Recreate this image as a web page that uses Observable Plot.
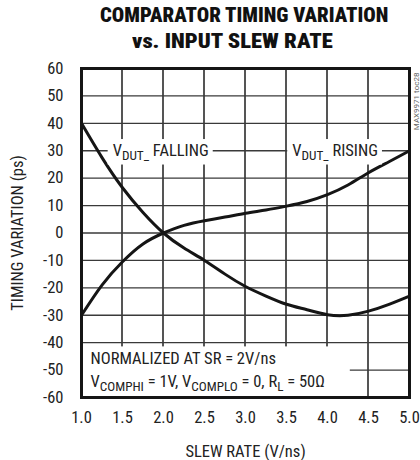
<!DOCTYPE html>
<html><head><meta charset="utf-8">
<script src="https://cdn.jsdelivr.net/npm/d3@7"></script>
<script src="https://cdn.jsdelivr.net/npm/@observablehq/plot@0.6"></script>
<style>
html,body{margin:0;padding:0;background:#fff;}
body{width:420px;height:460px;overflow:hidden;position:relative;}
#title{position:relative;height:60px;font-family:Roboto,"Liberation Sans",sans-serif;font-stretch:75%;font-weight:900;color:#111;}
#title div{position:absolute;white-space:nowrap;font-size:20px;line-height:24px;transform-origin:0 0;}
#chart svg{display:block;}
</style></head><body>
<div id="title"><div id="t1" style="top:3px;left:100px;">COMPARATOR TIMING VARIATION</div><div id="t2" style="top:29px;left:132px;">vs. INPUT SLEW RATE</div></div>
<div id="chart"></div>
<script>
const slewRate = [1.0, 1.25, 1.5, 1.75, 2.0, 2.25, 2.5, 2.75, 3.0, 3.25, 3.5, 3.75, 4.0, 4.25, 4.5, 4.75, 5.0];
const falling  = [40, 27.5, 16.5, 7.5, 0, -5.5, -10, -15, -19.5, -23, -26, -28, -29.8, -30, -28.5, -26, -23];
const rising   = [-30, -19, -10.5, -4, 0, 2.8, 4.5, 5.8, 7.2, 8.4, 9.8, 11.5, 14, 17.5, 22, 26, 30];
const xTicks = [1.0, 1.5, 2.0, 2.5, 3.0, 3.5, 4.0, 4.5, 5.0];
const yTicks = [-60, -50, -40, -30, -20, -10, 0, 10, 20, 30, 40, 50, 60];
const curveLabels = ["V_{DUT_} FALLING", "V_{DUT_} RISING"];
const noteLines = ["NORMALIZED AT SR = 2V/ns", "V_{COMPHI} = 1V, V_{COMPLO} = 0, R_{L} = 50Ω"];
const figureId = ["MAX9971 toc28"];

function squeeze(id, w) {
  const el = document.getElementById(id);
  const k = w / el.offsetWidth;
  el.style.transform = `scale(${k},1)`;
}
squeeze("t1", 288); squeeze("t2", 201);

const FONT = 'Roboto,"DejaVu Sans Condensed",sans-serif';
const data = slewRate.flatMap((x, i) => [
  {x, y: falling[i], s: "falling"},
  {x, y: rising[i], s: "rising"}
]);
const labelData = [
  {t: curveLabels[0], x: 1.38, y: 30},
  {t: curveLabels[1], x: 3.57, y: 30}
];
const noteData = [
  {t: noteLines[0], x: 1.11, y: -46},
  {t: noteLines[1], x: 1.11, y: -54.3}
];
const yMin = yTicks[0], yMax = yTicks[yTicks.length - 1];

const plot = Plot.plot({
  width: 420, height: 400,
  marginTop: 8, marginLeft: 81, marginRight: 11, marginBottom: 63,
  style: {fontFamily: FONT, fontSize: "16.5px", fontStretch: "75%", color: "#222", background: "white"},
  x: {domain: [1, 5], ticks: xTicks, tickSize: 0, tickPadding: 14, tickFormat: d3.format(".1f"), label: "SLEW RATE (V/ns)", labelAnchor: "center", labelArrow: "none", labelOffset: 59},
  y: {domain: [yMin, yMax], ticks: yTicks, tickSize: 0, tickPadding: 18, tickFormat: d => String(d), label: "TIMING VARIATION (ps)", labelAnchor: "center", labelArrow: "none", labelOffset: 70},
  marks: [
    Plot.ruleX(xTicks, {x: d => d, dx: -0.5, stroke: "#555", strokeWidth: 2}),
    Plot.ruleY(yTicks, {y: d => d, stroke: "#3a3a3a", strokeWidth: 1.3}),
    Plot.line(data, {x: "x", y: "y", z: "s", curve: "natural", stroke: "#151515", strokeWidth: 3}),
    Plot.text(labelData, {x: "x", y: "y", text: "t", textAnchor: "start", fontSize: 16.5, fill: "#222", className: "curvelab"}),
    Plot.text(noteData, {x: "x", y: "y", text: "t", textAnchor: "start", fontSize: 16.5, fill: "#222", className: "notelab"}),
    Plot.text(figureId, {x: 5, y: 48, dx: 7, rotate: -90, fontSize: 8, fill: "#666", text: d => d, className: "figid"}),
    Plot.frame({stroke: "#151515", strokeWidth: 3})
  ]
});
document.getElementById("chart").appendChild(plot);

const NS = "http://www.w3.org/2000/svg";
function applyMarkup(el) {
  const str = el.textContent;
  if (!str.includes("_{")) return;
  const parts = str.split(/(_\{[^}]*\})/).filter(p => p.length);
  el.textContent = "";
  let shifted = false;
  for (const p of parts) {
    const ts = document.createElementNS(NS, "tspan");
    if (p.startsWith("_{")) {
      ts.textContent = p.slice(2, -1);
      ts.setAttribute("font-size", "0.8em");
      ts.setAttribute("dy", shifted ? "0" : "3.5");
      shifted = true;
    } else {
      ts.textContent = p;
      if (shifted) { ts.setAttribute("dy", "-3.5"); shifted = false; }
    }
    el.appendChild(ts);
  }
}
const svg = d3.select(plot);
svg.selectAll(".curvelab text, .notelab text").each(function() { applyMarkup(this); });
svg.selectAll(".figid text").style("font-stretch", "100%");

svg.selectAll(".curvelab text").each(function() {
  const b = this.getBBox();
  const r = document.createElementNS(NS, "rect");
  r.setAttribute("x", b.x - 5); r.setAttribute("y", b.y - 2);
  r.setAttribute("width", b.width + 9); r.setAttribute("height", b.height + 4);
  r.setAttribute("fill", "white"); r.setAttribute("stroke", "none");
  const tr = this.getAttribute("transform");
  if (tr) r.setAttribute("transform", tr);
  this.parentNode.insertBefore(r, this);
});
const noteG = svg.select(".notelab").node();
if (noteG) {
  const b = noteG.getBBox();
  const r = document.createElementNS(NS, "rect");
  const left = 82;
  r.setAttribute("x", left); r.setAttribute("y", b.y - 3);
  r.setAttribute("width", b.x + b.width + 25 - left); r.setAttribute("height", b.height + 6);
  r.setAttribute("fill", "white"); r.setAttribute("stroke", "none");
  noteG.insertBefore(r, noteG.firstChild);
}
</script>
</body></html>
